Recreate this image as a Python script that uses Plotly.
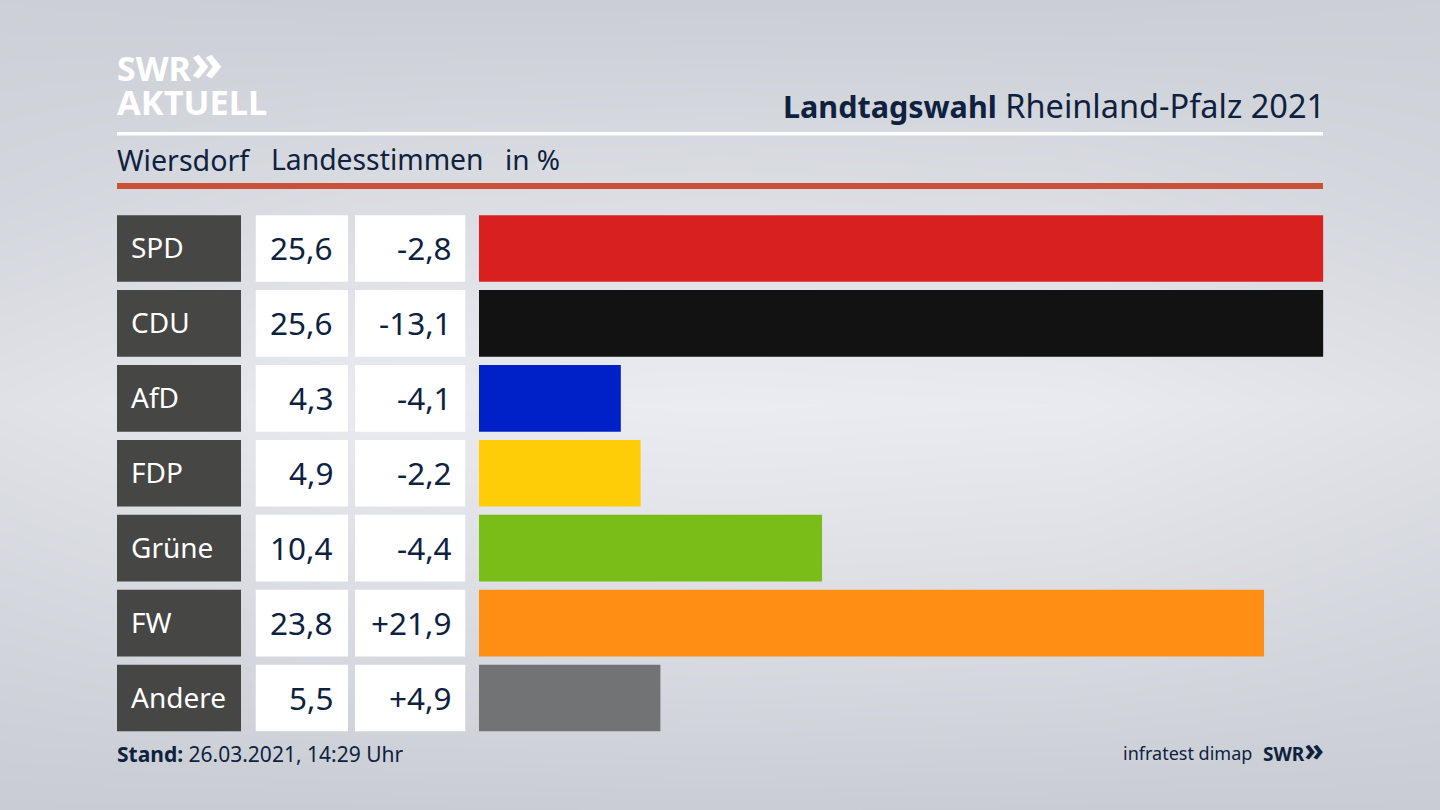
import plotly.graph_objects as go

W, H = 1440, 810
NAVY = '#0e2240'
FONT = 'Noto Sans'

parties = ['SPD', 'CDU', 'AfD', 'FDP', 'Grüne', 'FW', 'Andere']
shares = [25.6, 25.6, 4.3, 4.9, 10.4, 23.8, 5.5]
share_labels = ['25,6', '25,6', '4,3', '4,9', '10,4', '23,8', '5,5']
diff_labels = ['-2,8', '-13,1', '-4,1', '-2,2', '-4,4', '+21,9', '+4,9']
colors = ['#d8201f', '#121212', '#0021c8', '#ffcc08', '#7bbd18', '#ff8e15', '#727374']

# background shading, dark at the edges and light in the middle
bg_levels = [
    [0.10, 0.05, 0.05, 0.05, 0.10],
    [0.30, 0.50, 0.55, 0.50, 0.30],
    [0.65, 0.95, 1.00, 0.95, 0.65],
    [0.30, 0.50, 0.55, 0.50, 0.30],
    [0.00, 0.00, 0.02, 0.00, 0.00],
]


def px_x(x):
    return x / W


def px_y(y):
    return 1 - y / H


def dom_x(left, right):
    return [px_x(left), px_x(right)]


fig = go.Figure()

fig.add_trace(go.Heatmap(z=bg_levels, x=[0, 1, 2, 3, 4], y=[4, 3, 2, 1, 0], zsmooth='best', showscale=False,
                         colorscale=[[0, '#c9cdd3'], [1, '#ebecf1']], hoverinfo='skip', xaxis='x', yaxis='y'))

# dark name boxes and the two white number columns
fig.add_trace(go.Bar(x=[1] * 7, y=parties, orientation='h', marker=dict(color='#464644', line_width=0), xaxis='x2', yaxis='y2'))
fig.add_trace(go.Bar(x=[1] * 7, y=parties, orientation='h', marker=dict(color='white', line_width=0), xaxis='x3', yaxis='y2'))
fig.add_trace(go.Bar(x=[1] * 7, y=parties, orientation='h', marker=dict(color='white', line_width=0), xaxis='x4', yaxis='y2'))
fig.add_trace(go.Bar(x=shares, y=parties, orientation='h', marker=dict(color=colors, line_width=0), xaxis='x5', yaxis='y2'))

hidden = dict(visible=False, fixedrange=True)
fig.update_layout(
    width=W, height=H, margin=dict(l=0, r=0, t=0, b=0), showlegend=False, bargap=0.111,
    paper_bgcolor='#dfe1e6', plot_bgcolor='rgba(0,0,0,0)', font=dict(family=FONT, color=NAVY),
    xaxis=dict(domain=[0, 1], range=[0, 4], **hidden),
    yaxis=dict(domain=[0, 1], range=[0, 4], **hidden),
    xaxis2=dict(domain=dom_x(117, 241), range=[0, 1], anchor='y2', **hidden),
    xaxis3=dict(domain=dom_x(255.5, 348), range=[0, 1], anchor='y2', **hidden),
    xaxis4=dict(domain=dom_x(355, 465.5), range=[0, 1], anchor='y2', **hidden),
    xaxis5=dict(domain=dom_x(479, 1323.4), range=[0, 25.6], anchor='y2', **hidden),
    yaxis2=dict(domain=[px_y(735.5), px_y(211)], categoryorder='array', categoryarray=parties,
                range=[6.5, -0.5], anchor='x2', **hidden),
)

fig.add_shape(type='rect', xref='paper', yref='paper', x0=px_x(117), x1=px_x(1323), y0=px_y(135.5), y1=px_y(132), fillcolor='white', line_width=0)
fig.add_shape(type='rect', xref='paper', yref='paper', x0=px_x(117), x1=px_x(1323), y0=px_y(189), y1=px_y(183), fillcolor='#cc5037', line_width=0)


def page_text(x, y, text, size, anchor='left', color=NAVY):
    fig.add_annotation(xref='paper', yref='paper', x=px_x(x), y=px_y(y), text=text, showarrow=False, xanchor=anchor, yanchor='middle',
                       font=dict(size=size, color=color), borderpad=0, borderwidth=0)


for i, party in enumerate(parties):
    fig.add_annotation(xref='x2 domain', yref='y2', x=0, xshift=12, yshift=1, y=party, text=party, showarrow=False, xanchor='left', font=dict(size=28, color='white'))
    fig.add_annotation(xref='x3 domain', yref='y2', x=1, xshift=-13, yshift=1, y=party, text=share_labels[i], showarrow=False, xanchor='right', font=dict(size=31.5))
    fig.add_annotation(xref='x4 domain', yref='y2', x=1, xshift=-12, yshift=1, y=party, text=diff_labels[i], showarrow=False, xanchor='right', font=dict(size=31.5))

page_text(117, 60, '<b>SWR<span style="font-size:52px">»</span></b>', 34, color='white')
page_text(117, 102, '<b>AKTUELL</b>', 34.4, color='white')
page_text(1325, 105, '<span style="font-size:30.5px"><b>Landtagswahl</b></span> Rheinland-Pfalz 2021', 32.5, anchor='right')
page_text(117, 159, 'Wiersdorf', 28.6)
page_text(271, 159, 'Landesstimmen', 28.3)
page_text(505, 159, 'in %', 28)
page_text(117, 754, '<b>Stand:</b> 26.03.2021, 14:29 Uhr', 21)
page_text(1252, 753, 'infratest dimap', 18, anchor='right')
page_text(1324, 748, '<b>SWR<span style="font-size:32px">»</span></b>', 19, anchor='right')

fig.write_html("out.html", config=dict(displayModeBar=False), post_script="document.body.style.margin='0'")
